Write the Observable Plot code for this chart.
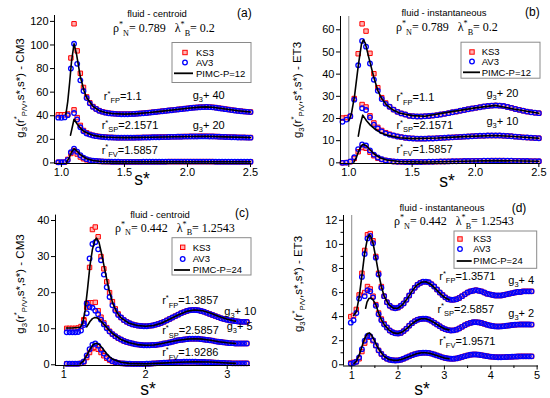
<!DOCTYPE html>
<html><head><meta charset="utf-8">
<script src="https://cdn.jsdelivr.net/npm/d3@7"></script>
<script src="https://cdn.jsdelivr.net/npm/@observablehq/plot@0.6"></script>
<style>
html,body{margin:0;padding:0;background:#fff;}
#wrap{position:relative;width:550px;height:398px;overflow:hidden;background:#fff;}
</style></head><body><div id="wrap"></div>
<script>
const FONT = "'Liberation Sans', Arial, Helvetica, sans-serif";
const SERIF = "'Liberation Serif', 'Times New Roman', serif";

// ---------- Panel (a): fluid - centroid, rho=0.789, lambda=0.2 ----------
const aGrid = d3.range(0, 62).map(k => +(0.975 + 0.025 * k).toFixed(3));
const aTopKS = [40.8,40.8,40.8,41.5,89,118,95,76,64,56,51,47.8,45.8,44.3,43.4,42.7,42.2,41.9,41.7,41.5,41.4,41.4,41.4,41.5,41.6,41.8,42.0,42.2,42.4,42.7,43.0,43.3,43.6,43.9,44.2,44.5,44.8,45.1,45.4,45.7,46.0,46.3,46.6,46.9,47.1,47.3,47.4,47.5,47.4,47.2,46.9,46.5,46.1,45.7,45.3,44.9,44.5,44.2,43.9,43.6,43.4,43.2];
const aTopAV = [38.4,38.3,38.6,40.5,80,101,84,70,61,55,50.5,47.5,45.7,44.2,43.3,42.6,42.1,41.8,41.6,41.4,41.3,41.3,41.3,41.4,41.5,41.7,41.9,42.1,42.3,42.6,42.9,43.2,43.5,43.8,44.1,44.4,44.7,45.0,45.3,45.6,45.9,46.2,46.5,46.8,47.0,47.2,47.3,47.4,47.3,47.1,46.8,46.4,46.0,45.6,45.2,44.8,44.4,44.1,43.8,43.5,43.3,43.1];
const aMidKS = [null,null,null,null,null,45,38.4,31.8,27.5,25.5,24.2,23.4,22.8,22.4,22.1,21.9,21.7,21.6,21.5,21.4,21.4,21.4,21.4,21.4,21.4,21.5,21.5,21.6,21.6,21.7,21.8,21.8,21.9,22.0,22.0,22.1,22.2,22.2,22.3,22.3,22.4,22.4,22.5,22.5,22.5,22.6,22.6,22.6,22.5,22.5,22.4,22.3,22.2,22.1,22.0,21.9,21.8,21.7,21.6,21.6,21.5,21.5];
const aMidAV = [null,null,null,null,null,42.3,36.8,30.2,26.8,25.0,24.0,23.2,22.7,22.3,22.0,21.8,21.6,21.5,21.4,21.3,21.3,21.3,21.3,21.3,21.3,21.4,21.4,21.5,21.5,21.6,21.7,21.7,21.8,21.9,21.9,22.0,22.1,22.1,22.2,22.2,22.3,22.3,22.4,22.4,22.4,22.5,22.5,22.5,22.4,22.4,22.3,22.2,22.1,22.0,21.9,21.8,21.7,21.6,21.5,21.5,21.4,21.4];
const aBotKS = [0.5,0.5,0.6,3,8,10.5,7.5,5,3.5,2.6,2.0,1.7,1.5,1.3,1.2,1.1,1.1,1.0,1.0,1.0,0.9,0.9,0.9,0.9,0.9,0.9,0.9,1.0,1.0,1.0,1.0,1.0,1.0,1.0,1.0,1.1,1.1,1.1,1.1,1.1,1.1,1.1,1.1,1.1,1.1,1.1,1.1,1.1,1.1,1.1,1.0,1.0,1.0,1.0,1.0,1.0,1.0,1.0,1.0,1.0,1.0,1.0];
const aBotAV = [0.5,0.5,0.7,2.5,9,12,9.5,6.5,4.5,3.2,2.4,1.9,1.6,1.4,1.2,1.1,1.1,1.0,1.0,1.0,0.9,0.9,0.9,0.9,0.9,0.9,0.9,1.0,1.0,1.0,1.0,1.0,1.0,1.0,1.0,1.1,1.1,1.1,1.1,1.1,1.1,1.1,1.1,1.1,1.1,1.1,1.1,1.1,1.1,1.1,1.0,1.0,1.0,1.0,1.0,1.0,1.0,1.0,1.0,1.0,1.0,1.0];
const aTopPx = [1.035,1.05,1.065,1.08,1.1,1.12,1.15,1.18,1.2,1.25,1.3,1.35,1.4,1.5,1.6,1.7,1.8,1.9,2.0,2.1,2.15,2.2,2.3,2.4,2.5];
const aTopPy = [41,52,68,86,101,92,73,61,55.5,48,44.3,42.7,41.9,41.4,41.8,42.7,43.9,45.1,46.3,47.3,47.5,47.2,45.7,44.2,43.2];
const aMidPx = [1.072,1.1,1.125,1.15,1.175,1.2,1.25,1.3,1.35,1.4,1.5,1.7,1.9,2.15,2.3,2.5];
const aMidPy = [23.5,37,33,29.5,27,25.5,23.5,22.5,22,21.7,21.4,21.7,22.2,22.6,22.1,21.5];
const aBotPx = [1.04,1.06,1.08,1.1,1.12,1.15,1.2,1.25,1.3,1.4,1.6,2.0,2.5];
const aBotPy = [0.5,4,9,12,10.5,7,3.5,2,1.4,1.1,1.0,1.0,1.0];
const aXTicks = [1.0,1.5,2.0,2.5];
const aYTicks = [0,20,40,60,80,100,120];

// ---------- Panel (b): fluid - instantaneous, rho=0.789, lambda=0.2 ----------
const bGrid = d3.range(0, 51).map(k => +(0.95 + 0.031 * k).toFixed(3));
const bTopKS = [20.2,20.4,21,29,49.2,62.7,59.4,49.4,40.2,33.9,29.4,27.0,25.3,24.0,23.0,22.3,21.8,21.2,21.0,20.9,20.9,21.0,21.1,21.3,21.5,21.8,22.1,22.4,22.8,23.1,23.5,23.8,24.2,24.5,24.8,25.1,25.4,25.6,25.8,25.9,25.8,25.6,25.2,24.8,24.3,23.9,23.5,23.1,22.8,22.6,22.4];
const bTopAV = [18.5,19.5,21,28.5,44,55,52.4,44.8,37.5,32.5,28.8,26.6,25.3,24.0,23.0,22.3,21.8,21.2,21.0,20.9,20.9,21.0,21.1,21.3,21.5,21.8,22.1,22.4,22.8,23.1,23.5,23.8,24.2,24.5,24.8,25.1,25.4,25.6,25.8,25.9,25.8,25.6,25.2,24.8,24.3,23.9,23.5,23.1,22.8,22.6,22.4];
const bMidKS = [null,null,null,null,null,26.3,25.2,21.2,18,16,14.6,13.6,12.9,12.3,11.9,11.6,11.3,11.1,11.0,10.9,10.9,10.9,11.0,11.0,11.1,11.2,11.3,11.4,11.5,11.6,11.7,11.8,11.9,12.0,12.1,12.2,12.2,12.3,12.3,12.3,12.3,12.2,12.1,12.0,11.8,11.7,11.5,11.4,11.3,11.2,11.1];
const bMidAV = [null,null,null,null,null,24.6,23.8,20.5,17.2,15.5,14.2,13.3,12.7,12.3,11.9,11.6,11.3,11.1,11.0,10.9,10.9,10.9,11.0,11.0,11.1,11.2,11.3,11.4,11.5,11.6,11.7,11.8,11.9,12.0,12.1,12.2,12.2,12.3,12.3,12.3,12.3,12.2,12.1,12.0,11.8,11.7,11.5,11.4,11.3,11.2,11.1];
const bBotKS = [0,0.1,0.5,2,5,6.9,6.6,4.8,3.2,2.1,1.5,1.1,0.8,0.6,0.5,0.45,0.4,0.4,0.4,0.4,0.4,0.45,0.5,0.5,0.55,0.6,0.6,0.65,0.7,0.7,0.75,0.8,0.8,0.85,0.9,0.9,0.95,0.95,1.0,1.0,1.0,1.0,0.95,0.95,0.9,0.85,0.8,0.8,0.75,0.75,0.7];
const bBotAV = [0,0.1,0.6,2.5,6.2,8.3,7.8,5.6,3.7,2.4,1.6,1.1,0.8,0.6,0.5,0.45,0.4,0.4,0.4,0.4,0.4,0.45,0.5,0.5,0.55,0.6,0.6,0.65,0.7,0.7,0.75,0.8,0.8,0.85,0.9,0.9,0.95,0.95,1.0,1.0,1.0,1.0,0.95,0.95,0.9,0.85,0.8,0.8,0.75,0.75,0.7];
const bTopPx = [1.0,1.02,1.045,1.075,1.1,1.115,1.13,1.16,1.2,1.23,1.26,1.3,1.35,1.4,1.5,1.6,1.8,2.0,2.16,2.3,2.5];
const bTopPy = [19,22,30,44,53.5,55.5,54,47,38,32.5,29,26,23.8,22.5,21.3,21.0,23,24.8,25.9,24.3,22.4];
const bMidPx = [1.075,1.09,1.11,1.14,1.17,1.2,1.25,1.3,1.4,1.5,1.7,1.9,2.15,2.3,2.5];
const bMidPy = [12,17,21.5,19,17,15.5,13.6,12.5,11.3,10.9,11.2,11.8,12.3,11.9,11.1];
const bBotPx = [1.04,1.06,1.08,1.1,1.115,1.14,1.17,1.2,1.25,1.3,1.4,1.6,1.9,2.15,2.5];
const bBotPy = [0.3,2.5,5.5,7.8,8.4,7.6,5.8,4,2.2,1.3,0.6,0.4,0.7,1.0,0.7];
const bXTicks = [1.0,1.5,2.0,2.5];
const bYTicks = [0,10,20,30,40,50,60];

// ---------- Panel (c): fluid - centroid, rho=0.442, lambda=1.2543 ----------
const cGrid = d3.range(0, 64).map(k => +(1.035 + 0.035 * k).toFixed(3));
const cTopKS = [10.1,10.1,10.1,10.1,10.2,10.6,12.5,16,27,37.5,38.2,35.5,30,26.6,23,20,17.5,15.5,14.1,13.1,12.4,11.9,11.5,11.2,11.0,10.85,10.75,10.7,10.7,10.8,10.9,11.1,11.3,11.6,11.9,12.3,12.7,13.1,13.5,13.9,14.3,14.6,14.9,15.1,15.2,15.2,15.1,14.9,14.7,14.4,14.1,13.8,13.5,13.2,12.9,12.7,12.5,12.3,12.2,12.1,12.0,11.9,11.9,11.9];
const cTopAV = [9.0,9.0,9.0,9.0,9.1,9.5,11.5,17,29.5,33.5,34.0,32.0,29.0,25.0,21.5,18.8,16.5,15.0,13.8,13.1,12.4,11.9,11.5,11.2,11.0,10.85,10.75,10.7,10.7,10.8,10.9,11.1,11.3,11.6,11.9,12.3,12.7,13.1,13.5,13.9,14.3,14.6,14.9,15.1,15.2,15.2,15.1,14.9,14.7,14.4,14.1,13.8,13.5,13.2,12.9,12.7,12.5,12.3,12.2,12.1,12.0,11.9,11.9,11.9];
const cMidKS = [null,null,null,null,null,null,12.2,17.0,17.2,17.2,17.3,15.0,13.2,11.6,10.3,9.3,8.5,7.9,7.4,7.0,6.6,6.3,6.1,5.9,5.7,5.6,5.5,5.4,5.4,5.4,5.5,5.5,5.6,5.7,5.9,6.0,6.2,6.4,6.6,6.8,6.9,7.0,7.1,7.2,7.2,7.2,7.2,7.1,7.0,6.9,6.8,6.7,6.5,6.4,6.3,6.2,6.1,6.0,6.0,5.9,5.9,5.9,5.9,5.9];
const cMidAV = [null,null,null,null,null,null,11.0,14.3,16.0,15.8,15.0,14.0,12.5,11.2,10.1,9.2,8.5,7.9,7.4,7.0,6.6,6.3,6.1,5.9,5.7,5.6,5.5,5.4,5.4,5.4,5.5,5.5,5.6,5.7,5.9,6.0,6.2,6.4,6.6,6.8,6.9,7.0,7.1,7.2,7.2,7.2,7.2,7.1,7.0,6.9,6.8,6.7,6.5,6.4,6.3,6.2,6.1,6.0,6.0,5.9,5.9,5.9,5.9,5.9];
const cBotKS = [0.3,0.3,0.3,0.3,0.3,0.4,0.8,2.0,3.4,4.5,4.8,4.3,3.4,2.5,1.8,1.3,0.9,0.7,0.5,0.4,0.35,0.3,0.3,0.25,0.25,0.25,0.25,0.25,0.3,0.3,0.35,0.4,0.45,0.5,0.55,0.6,0.65,0.7,0.75,0.8,0.8,0.85,0.85,0.85,0.85,0.85,0.8,0.8,0.75,0.7,0.7,0.65,0.6,0.55,0.5,0.5,0.45,0.45,0.4,0.4,0.4,0.4,0.4,0.4];
const cBotAV = [0.3,0.3,0.3,0.3,0.3,0.4,0.9,2.6,4.3,5.6,5.9,5.3,4.2,3.1,2.2,1.5,1.0,0.75,0.5,0.4,0.35,0.3,0.3,0.25,0.25,0.25,0.25,0.25,0.3,0.3,0.35,0.4,0.45,0.5,0.55,0.6,0.65,0.7,0.75,0.8,0.8,0.85,0.85,0.85,0.85,0.85,0.8,0.8,0.75,0.7,0.7,0.65,0.6,0.55,0.5,0.5,0.45,0.45,0.4,0.4,0.4,0.4,0.4,0.4];
const cTopPx = [1.03,1.1,1.2,1.23,1.26,1.29,1.32,1.35,1.38,1.4,1.43,1.46,1.5,1.55,1.6,1.65,1.7,1.8,1.9,2.0,2.1,2.2,2.3,2.4,2.5,2.6,2.7,2.8,2.9,3.0,3.1];
const cTopPy = [10.2,10.2,10.4,11.5,15,21,27.5,32,34.5,35.1,34,31,26.5,21,17,14.5,13,11.5,10.9,10.7,10.9,11.6,12.7,13.8,14.8,15.2,15.0,14.3,13.4,12.6,12.1];
const cMidPx = [1.28,1.32,1.35,1.38,1.41,1.45,1.5,1.55,1.6,1.7,1.8,1.9,2.0,2.1,2.2,2.3,2.4,2.5,2.6,2.7,2.8,2.9,3.0,3.1];
const cMidPy = [10.5,12.0,12.8,13.1,13.0,12.2,11.0,9.7,8.6,7.0,6.1,5.6,5.4,5.5,5.9,6.4,6.8,7.1,7.2,7.1,6.8,6.4,6.1,5.9];
const cBotPx = [1.2,1.24,1.28,1.32,1.36,1.4,1.44,1.48,1.52,1.56,1.6,1.7,1.8,2.0,2.2,2.4,2.6,2.8,3.0,3.1];
const cBotPy = [0.3,1.0,2.6,4.3,5.6,6.0,5.5,4.4,3.2,2.2,1.5,0.7,0.4,0.3,0.45,0.7,0.85,0.75,0.5,0.4];
const cXTicks = [1,2,3];
const cYTicks = [0,10,20,30,40];

// ---------- Panel (d): fluid - instantaneous, rho=0.442, lambda=1.2543 ----------
const dGrid = d3.range(0, 66).map(k => +(0.98 + 0.06 * k).toFixed(3));
const dTopKS = [4.0,4.1,4.6,5.8,7.6,9.5,10.8,10.9,10.3,9.0,7.6,6.5,5.7,5.2,4.9,4.75,4.7,4.75,4.9,5.1,5.4,5.75,6.1,6.4,6.65,6.8,6.9,6.9,6.85,6.7,6.5,6.25,6.0,5.8,5.6,5.45,5.4,5.4,5.45,5.55,5.7,5.85,6.0,6.1,6.15,6.2,6.15,6.1,6.0,5.9,5.85,5.8,5.75,5.75,5.75,5.8,5.85,5.9,5.95,6.0,6.05,6.05,6.1,6.1,6.1,6.1];
const dTopAV = [3.5,3.7,4.3,5.5,7.3,9.2,10.5,10.7,10.1,8.9,7.5,6.4,5.7,5.2,4.9,4.75,4.7,4.75,4.9,5.1,5.4,5.75,6.1,6.4,6.65,6.8,6.9,6.9,6.85,6.7,6.5,6.25,6.0,5.8,5.6,5.45,5.4,5.4,5.45,5.55,5.7,5.85,6.0,6.1,6.15,6.2,6.15,6.1,6.0,5.9,5.85,5.8,5.75,5.75,5.75,5.8,5.85,5.9,5.95,6.0,6.05,6.05,6.1,6.1,6.1,6.1];
const dMidKS = [null,null,null,null,null,6.0,6.5,6.3,5.7,5.0,4.3,3.8,3.4,3.1,2.85,2.7,2.62,2.6,2.65,2.8,3.0,3.25,3.45,3.62,3.74,3.8,3.83,3.82,3.76,3.65,3.5,3.35,3.2,3.05,2.95,2.88,2.85,2.86,2.92,3.02,3.15,3.28,3.4,3.48,3.53,3.54,3.52,3.47,3.4,3.33,3.27,3.22,3.19,3.18,3.19,3.21,3.24,3.27,3.3,3.32,3.34,3.35,3.35,3.35,3.35,3.34];
const dMidAV = [null,null,null,null,null,5.7,6.2,6.1,5.6,4.9,4.2,3.7,3.35,3.1,2.85,2.7,2.62,2.6,2.65,2.8,3.0,3.25,3.45,3.62,3.74,3.8,3.83,3.82,3.76,3.65,3.5,3.35,3.2,3.05,2.95,2.88,2.85,2.86,2.92,3.02,3.15,3.28,3.4,3.48,3.53,3.54,3.52,3.47,3.4,3.33,3.27,3.22,3.19,3.18,3.19,3.21,3.24,3.27,3.3,3.32,3.34,3.35,3.35,3.35,3.35,3.34];
const dBotKS = [0.15,0.2,0.25,0.5,1.1,1.8,2.3,2.3,2.0,1.6,1.2,0.9,0.65,0.5,0.42,0.38,0.36,0.37,0.42,0.5,0.6,0.7,0.8,0.88,0.94,0.98,1.0,1.0,0.98,0.93,0.86,0.78,0.7,0.62,0.56,0.52,0.5,0.5,0.53,0.58,0.65,0.72,0.78,0.83,0.86,0.86,0.84,0.8,0.76,0.72,0.68,0.66,0.64,0.63,0.63,0.64,0.65,0.66,0.67,0.68,0.69,0.7,0.7,0.7,0.7,0.7];
const dBotAV = [0.1,0.15,0.25,0.6,1.3,2.0,2.4,2.35,2.05,1.6,1.2,0.9,0.65,0.5,0.42,0.38,0.36,0.37,0.42,0.5,0.6,0.7,0.8,0.88,0.94,0.98,1.0,1.0,0.98,0.93,0.86,0.78,0.7,0.62,0.56,0.52,0.5,0.5,0.53,0.58,0.65,0.72,0.78,0.83,0.86,0.86,0.84,0.8,0.76,0.72,0.68,0.66,0.64,0.63,0.63,0.64,0.65,0.66,0.67,0.68,0.69,0.7,0.7,0.7,0.7,0.7];
const dTopPx = [1.04,1.1,1.16,1.22,1.28,1.34,1.38,1.42,1.46,1.52,1.58,1.64,1.7,1.8,1.9,2.0,2.1,2.2,2.3,2.4,2.5,2.6,2.7,2.8,2.9,3.0,3.1];
const dTopPy = [4.1,4.4,5.6,7.4,9.3,10.5,10.8,10.6,10.1,8.9,7.6,6.5,5.7,5.0,4.7,4.7,5.0,5.5,6.1,6.6,6.85,6.9,6.7,6.35,5.95,5.6,5.4];
const dMidPx = [1.3,1.33,1.37,1.42,1.46,1.52,1.58,1.64,1.7,1.8,1.9,2.0,2.1,2.2,2.3,2.4,2.5,2.6,2.7,2.8,2.9,3.0,3.1];
const dMidPy = [4.7,5.2,5.5,5.55,5.4,5.0,4.3,3.75,3.35,2.9,2.65,2.6,2.75,3.05,3.4,3.68,3.82,3.82,3.68,3.45,3.2,3.0,2.9];
const dBotPx = [1.05,1.1,1.16,1.22,1.28,1.34,1.38,1.42,1.48,1.54,1.6,1.7,1.8,1.9,2.0,2.1,2.2,2.3,2.4,2.5,2.6,2.7,2.8,2.9,3.0,3.1];
const dBotPy = [0.1,0.3,0.8,1.5,2.2,2.6,2.65,2.5,2.1,1.6,1.2,0.7,0.45,0.37,0.38,0.48,0.62,0.78,0.92,1.0,1.0,0.94,0.82,0.68,0.56,0.5];
const dXTicks = [1,2,3,4,5];
const dYTicks = [0,2,4,6,8,10,12];
const dYMinor = [1,3,5,7,9,11];
const dXMinor = [1.5,2.5,3.5,4.5];

// ---------- text helpers ----------
function rich(sel, x, y, parts, o = {}) {
  const size = o.size || 11;
  const t = sel.append("text").attr("x", x).attr("y", y)
    .attr("font-family", o.family || FONT).attr("font-size", size)
    .attr("text-anchor", o.anchor || "start").attr("fill", "#000")
    .style("white-space", "pre");
  if (o.rotate) t.attr("transform", `rotate(${o.rotate},${x},${y})`);
  let off = 0;
  for (const [s, k] of parts) {
    const target = k === "sub" ? size * 0.3 : k === "sup" ? -size * 0.4 : 0;
    t.append("tspan").attr("dy", (target - off).toFixed(2)).attr("font-size", k ? size * 0.68 : size).text(s);
    off = target;
  }
  return t;
}
function plain(sel, x, y, s, size, anchor, family) {
  return sel.append("text").attr("x", x).attr("y", y).attr("text-anchor", anchor || "start")
    .attr("font-family", family || FONT).attr("font-size", size).attr("fill", "#000")
    .style("white-space", "pre").text(s);
}
const rLab = (sub, val) => [["r",""],["*","sup"],[sub,"sub"],["=" + val,""]];
const gLab = (off) => [["g",""],["3","sub"],["+ " + off,""]];

const panels = [
  {tag:"(a)", left:0, top:0, w:275, h:199, mL:54, mR:25, mT:15, mB:36,
   xDomain:[0.945,2.5], yDomain:[-0.5,125], xTicks:aXTicks, yTicks:aYTicks, xFmt:d3.format(".1f"), vline:false,
   grid:aGrid, curves:[[aTopKS,aTopAV,aTopPx,aTopPy],[aMidKS,aMidAV,aMidPx,aMidPy],[aBotKS,aBotAV,aBotPx,aBotPy]],
   title:"fluid - centroid", titleXY:[157,17], rho:"0.789", lam:"0.2", paramXY:[113,32], tagXY:[237,17],
   legend:{box:[172,42.5,79,40], sx:185, tx:196, rows:[52.5,62.5,73.3], lx:[174,193], p:"PIMC-P=12"},
   ylab:[20,88,"CM3"], xlab:[142,185],
   notes:[[1.34,53,rLab("FP","1.1")],[2.045,53.8,gLab("40")],[1.323,28.2,rLab("SP","2.1571")],[2.045,28.2,gLab("20")],[1.323,7.4,rLab("FV","1.5857")]]},
  {tag:"(b)", left:275, top:0, w:275, h:199, mL:65, mR:10, mT:16, mB:36,
   xDomain:[0.9345,2.513], yDomain:[-0.3,66], xTicks:bXTicks, yTicks:bYTicks, xFmt:d3.format(".1f"), vline:true,
   grid:bGrid, curves:[[bTopKS,bTopAV,bTopPx,bTopPy],[bMidKS,bMidAV,bMidPx,bMidPy],[bBotKS,bBotAV,bBotPx,bBotPy]],
   title:"fluid - instantaneous", titleXY:[169,16], rho:"0.789", lam:"0.2", paramXY:[121,31], tagXY:[250,16],
   legend:{box:[186,42.2,79,36], sx:197, tx:206.7, rows:[52,61.5,72.3], lx:[188,205], p:"PIMC-P=12"},
   ylab:[22,90,"ET3"], xlab:[172,187],
   notes:[[1.38,27.5,rLab("FP","1.1")],[2.09,29.4,gLab("20")],[1.38,15,rLab("SP","2.1571")],[2.09,17,gLab("10")],[1.38,4.2,rLab("FV","1.5857")]]},
  {tag:"(c)", left:0, top:199, w:275, h:199, mL:55, mR:25, mT:15.6, mB:33,
   xDomain:[0.898,3.285], yDomain:[-0.2,41.5], xTicks:cXTicks, yTicks:cYTicks, xFmt:d3.format("d"), vline:false,
   grid:cGrid, curves:[[cTopKS,cTopAV,cTopPx,cTopPy],[cMidKS,cMidAV,cMidPx,cMidPy],[cBotKS,cBotAV,cBotPx,cBotPy]],
   title:"fluid - centroid", titleXY:[160,18.7], rho:"0.442", lam:"1.2543", paramXY:[115,32.7], tagXY:[235,17.7],
   legend:{box:[172,38.7,79,37.3], sx:182.7, tx:192.7, rows:[48.3,60,71], lx:[174,190], p:"PIMC-P=24"},
   ylab:[20,85,"CM3"], xlab:[148,196],
   notes:[[2.21,16.6,rLab("FP","1.3857")],[2.97,13.8,gLab("10")],[2.21,8.3,rLab("SP","2.5857")],[3.0,9.6,gLab("5")],[2.21,2.2,rLab("FV","1.9286")]]},
  {tag:"(d)", left:275, top:199, w:275, h:199, mL:68, mR:12, mT:16, mB:32.5,
   xDomain:[0.823,5.03], yDomain:[-0.1,12.4], xTicks:dXTicks, yTicks:dYTicks, xFmt:d3.format("d"), vline:true,
   xMinor:dXMinor, yMinor:dYMinor,
   grid:dGrid, curves:[[dTopKS,dTopAV,dTopPx,dTopPy],[dMidKS,dMidAV,dMidPx,dMidPy],[dBotKS,dBotAV,dBotPx,dBotPy]],
   title:"fluid - instantaneous", titleXY:[167,12.3], rho:"0.442", lam:"1.2543", paramXY:[119,26], tagXY:[236.7,12.7],
   legend:{box:[179,32,82.7,37.3], sx:185, tx:198.3, rows:[40,50,62], lx:[181.7,196.7], p:"PIMC-P=24"},
   ylab:[23,85,"ET3"], xlab:[147,196],
   notes:[[2.9,7.0,rLab("FP","1.3571")],[4.39,6.7,gLab("4")],[2.86,4.3,rLab("SP","2.5857")],[4.39,3.95,gLab("2")],[2.9,1.6,rLab("FV","1.9571")]]}
];

const wrap = document.getElementById("wrap");
for (const P of panels) {
  const ks = [], av = [], pl = [];
  P.curves.forEach(([k, a, px, py], ci) => {
    k.forEach((v, i) => { if (v != null && i < P.grid.length) ks.push({x: P.grid[i], y: v}); });
    a.forEach((v, i) => { if (v != null && i < P.grid.length) av.push({x: P.grid[i], y: v}); });
    px.forEach((x, i) => pl.push({x, y: py[i], c: ci}));
  });
  const marks = [];
  if (P.vline) marks.push(Plot.ruleX([1], {stroke: "#8c8c8c", strokeWidth: 1}));
  marks.push(
    Plot.dot(ks, {x: "x", y: "y", symbol: "square", r: 2.5, stroke: "#ff0000", fill: "#ffb4b4", strokeWidth: 1}),
    Plot.dot(av, {x: "x", y: "y", r: 2.3, stroke: "#0000ff", fill: "none", strokeWidth: 1.3}),
    Plot.line(pl, {x: "x", y: "y", z: "c", stroke: "#000", strokeWidth: 1.6}),
    Plot.ruleX([P.xDomain[0]], {stroke: "#000", strokeWidth: 1}),
    Plot.ruleY([P.yDomain[0]], {stroke: "#000", strokeWidth: 1}),
    Plot.axisX({ticks: P.xTicks, tickFormat: P.xFmt, tickSize: 4, tickPadding: 1, label: null, fontSize: 11}),
    Plot.axisY({ticks: P.yTicks, tickSize: 4, tickPadding: 2, label: null, fontSize: 11})
  );
  if (P.xMinor) marks.push(Plot.axisX({ticks: P.xMinor, tickSize: 2.5, tickFormat: () => "", label: null}));
  if (P.yMinor) marks.push(Plot.axisY({ticks: P.yMinor, tickSize: 2.5, tickFormat: () => "", label: null}));
  const plot = Plot.plot({
    width: P.w, height: P.h,
    marginLeft: P.mL, marginRight: P.mR, marginTop: P.mT, marginBottom: P.mB,
    x: {domain: P.xDomain}, y: {domain: P.yDomain},
    style: {fontFamily: FONT, fontSize: "11px", color: "#000", background: "none", overflow: "visible"},
    marks
  });
  plot.style.position = "absolute";
  plot.style.left = P.left + "px";
  plot.style.top = P.top + "px";
  wrap.appendChild(plot);
  const sx = plot.scale("x"), sy = plot.scale("y");
  const g = d3.select(plot).append("g");
  // title, params, tag
  plain(g, P.titleXY[0], P.titleXY[1], P.title, 9.5, "middle");
  rich(g, P.paramXY[0], P.paramXY[1],
    [["ρ",""],["*","sup"],["N","sub"],["= " + P.rho + "   λ",""],["*","sup"],["B","sub"],["= " + P.lam,""]],
    {family: SERIF, size: 12});
  plain(g, P.tagXY[0], P.tagXY[1], P.tag, 12, "start");
  // legend
  const L = P.legend;
  g.append("rect").attr("x", L.box[0]).attr("y", L.box[1]).attr("width", L.box[2]).attr("height", L.box[3])
    .attr("fill", "#fff").attr("stroke", "#8a8a8a").attr("stroke-width", 1);
  g.append("rect").attr("x", L.sx - 2.2).attr("y", L.rows[0] - 2.2).attr("width", 4.4).attr("height", 4.4)
    .attr("fill", "#ffb4b4").attr("stroke", "#ff0000").attr("stroke-width", 1);
  g.append("circle").attr("cx", L.sx).attr("cy", L.rows[1]).attr("r", 2.3)
    .attr("fill", "none").attr("stroke", "#0000ff").attr("stroke-width", 1.3);
  g.append("line").attr("x1", L.lx[0]).attr("x2", L.lx[1]).attr("y1", L.rows[2]).attr("y2", L.rows[2])
    .attr("stroke", "#000").attr("stroke-width", 1.8);
  [["KS3", 0], ["AV3", 1], [L.p, 2]].forEach(([s, i]) => plain(g, L.tx, L.rows[i] + 3.4, s, 9.5, "start"));
  // axis labels
  rich(g, P.ylab[0] + 4, P.ylab[1],
    [["g",""],["3","sub"],["(r",""],["*","sup"],["P/V","sub"],[",s*,s*) - " + P.ylab[2],""]],
    {size: 11.5, anchor: "middle", rotate: -90});
  plain(g, P.xlab[0], P.xlab[1], "s*", 17.5, "middle");
  // curve annotations
  for (const [x, y, parts] of P.notes) rich(g, sx.apply(x), sy.apply(y), parts, {size: 11});
}
</script></body></html>
